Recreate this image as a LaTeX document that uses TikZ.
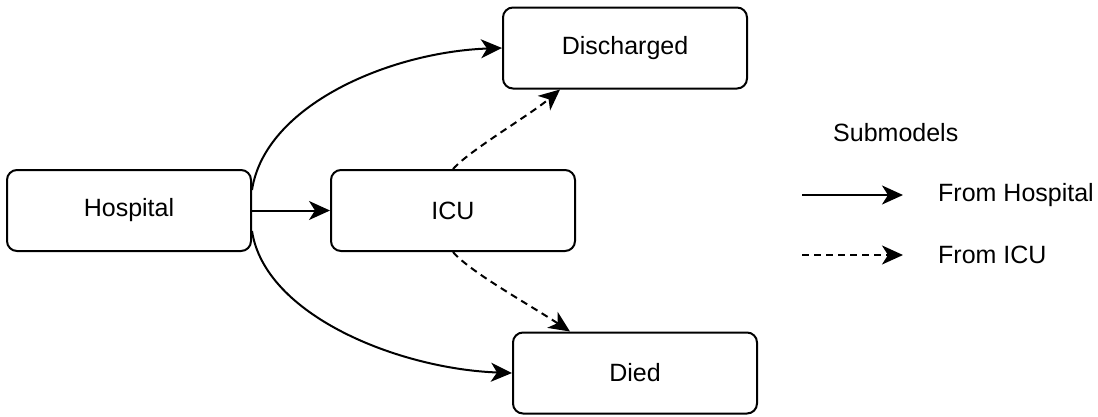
\documentclass[tikz,border=0pt]{standalone}
\usepackage{fontspec}
\setmainfont{Liberation Sans}
\usetikzlibrary{arrows.meta}
\begin{document}
\begin{tikzpicture}[x=1pt,y=-1pt,
  box/.style={draw, line width=2pt, rounded corners=10pt, minimum width=244pt, minimum height=81pt, inner sep=0pt, font=\fontsize{25}{30}\selectfont},
  conn/.style={line width=2pt, -{Stealth[length=21pt,width=19pt,inset=6pt]}},
  dsh/.style={conn, dash pattern=on 7pt off 5pt},
  lbl/.style={anchor=west, inner sep=0pt, font=\fontsize{25}{30}\selectfont}]
\useasboundingbox (0,0) rectangle (1098,416);
\node[box] (hosp) at (129,210.5) {Hospital};
\node[box] (icu) at (453,210.5) {ICU};
\node[box] (dis) at (625,48) {Discharged};
\node[box] (died) at (635,373) {Died};
\draw[conn] (hosp.east) -- (icu.west);
\draw[conn] ([yshift=20.5pt]hosp.east) .. controls (265,105) and (390,52) .. (dis.west);
\draw[conn] ([yshift=-20.5pt]hosp.east) .. controls (265,316) and (400,369) .. (died.west);
\draw[dsh] (icu.north) .. controls (470,150) and (530,115) .. ([xshift=-65pt]dis.south);
\draw[dsh] (icu.south) .. controls (470,272) and (530,305) .. ([xshift=-65pt]died.north);
\node[lbl] (sub) at (833,133) {Submodels};
\coordinate (l1a) at (802,195);
\coordinate (l1b) at (903,195);
\coordinate (l2a) at (802,255);
\coordinate (l2b) at (903,255);
\draw[conn] (l1a) -- (l1b);
\draw[dsh] (l2a) -- (l2b);
\node[lbl] (fh) at (938,195) {From Hospital};
\node[lbl] (fi) at (938,255) {From ICU};
\end{tikzpicture}
\end{document}
